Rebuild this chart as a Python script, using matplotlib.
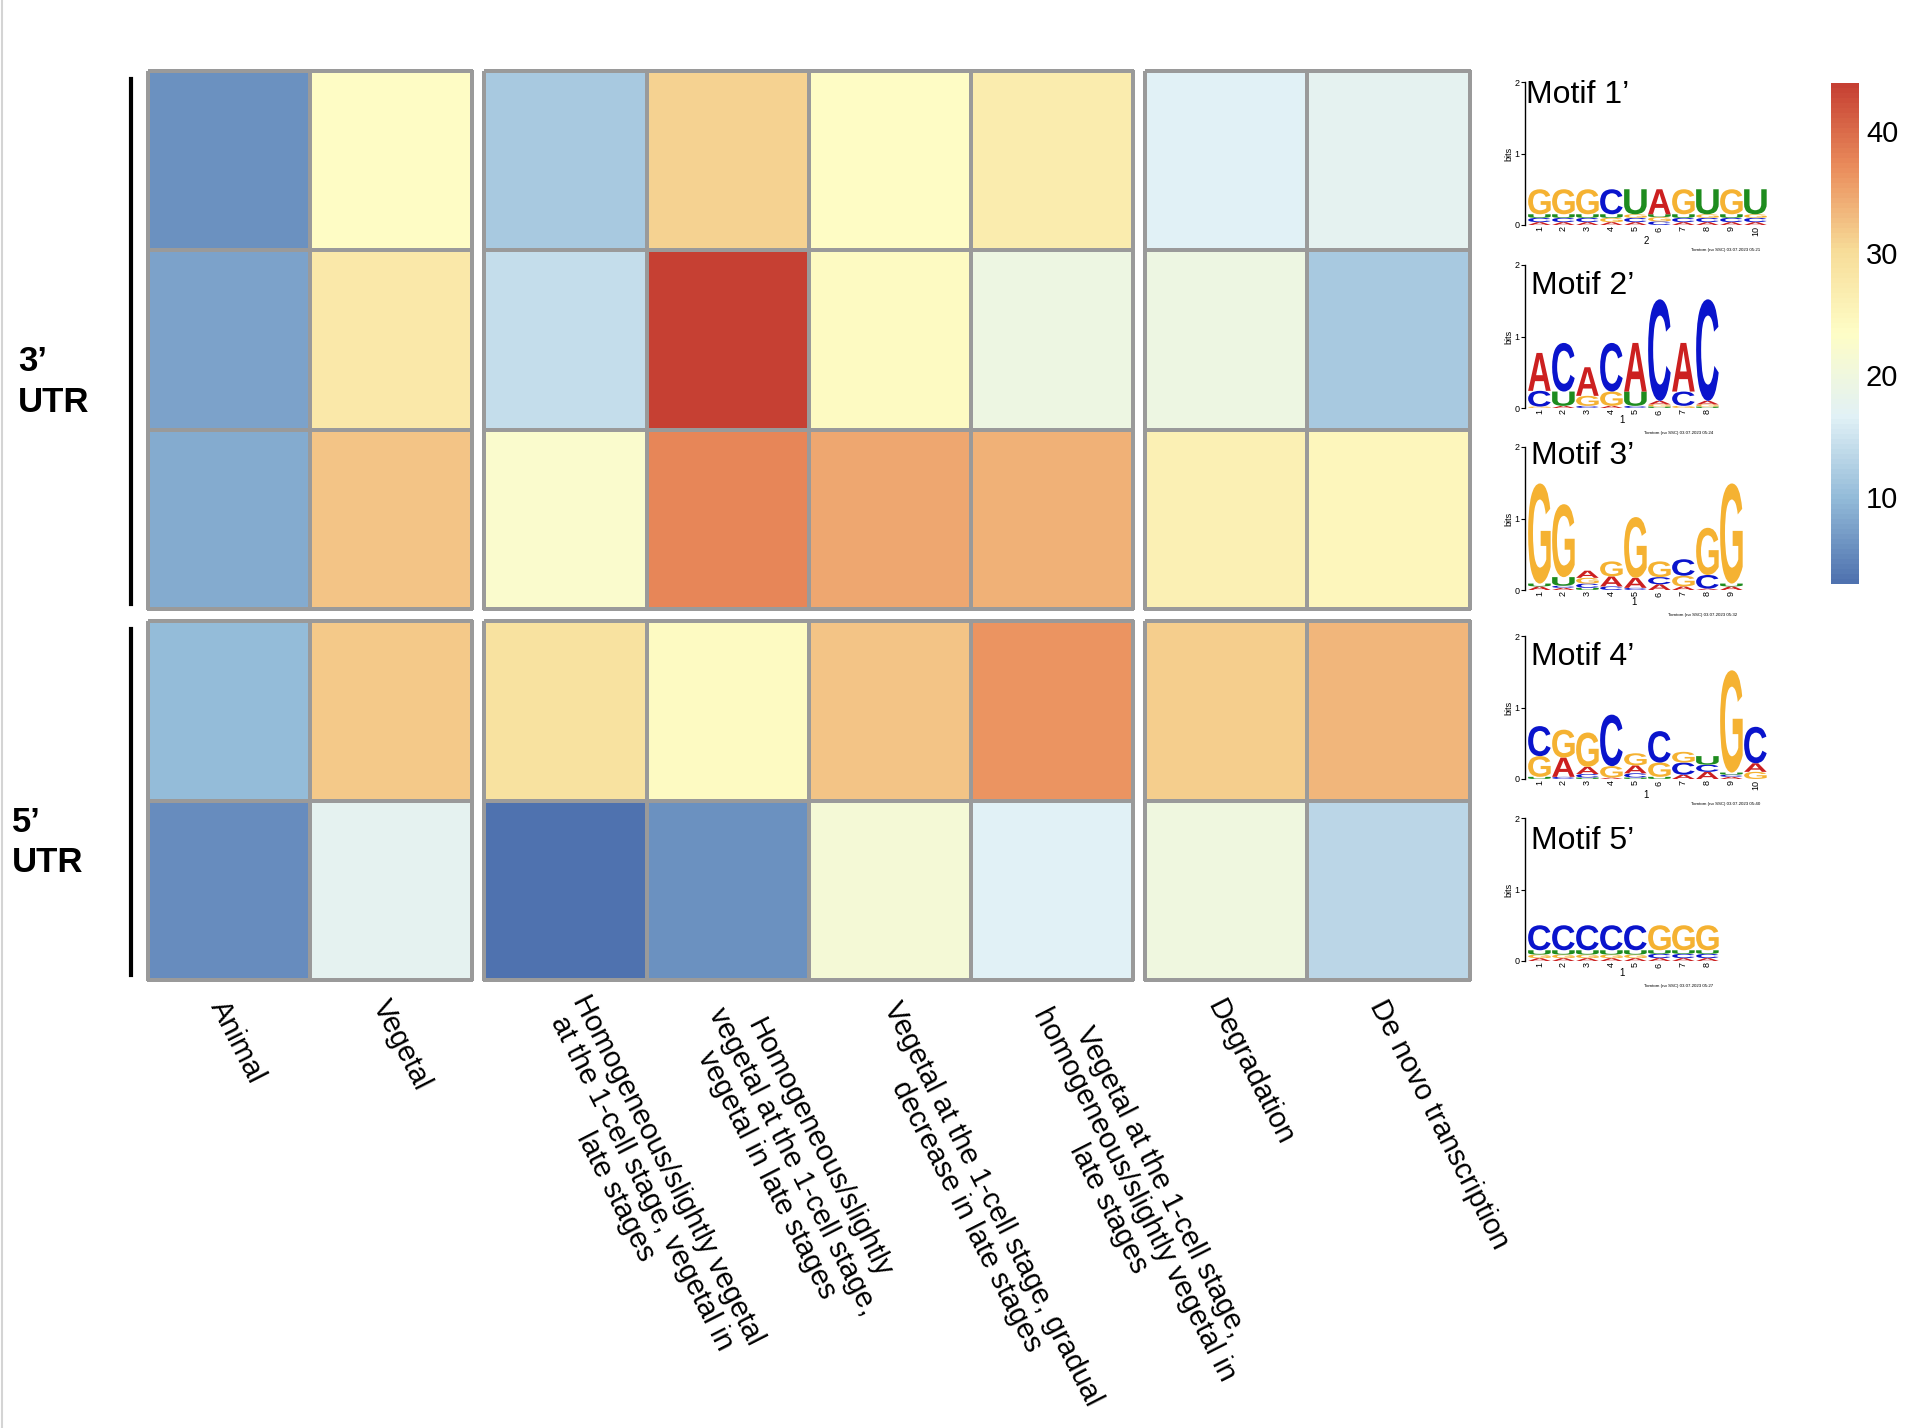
import numpy as np
import matplotlib
matplotlib.use("Agg")
import matplotlib.pyplot as plt
import matplotlib.transforms as mtransforms
from matplotlib.colors import LinearSegmentedColormap, Normalize
from matplotlib.cm import ScalarMappable
from matplotlib.textpath import TextPath
from matplotlib.patches import PathPatch
from matplotlib.font_manager import FontProperties
from matplotlib.lines import Line2D

plt.rcParams['font.family'] = ['Liberation Sans', 'DejaVu Sans']

# ---- heatmap data ----
col_labels = ["Animal",
              "Vegetal",
              "Homogeneous/slightly vegetal\nat the 1-cell stage, vegetal in\nlate stages",
              "Homogeneous/slightly\nvegetal at the 1-cell stage,\nvegetal in late stages",
              "Vegetal at the 1-cell stage, gradual\ndecrease in late stages",
              "Vegetal at the 1-cell stage,\nhomogeneous/slightly vegetal in\nlate stages",
              "Degradation",
              "De novo transcription"]
col_groups = [2, 4, 2]
utr3_values = [[6.0, 23.5, 11.7, 31.0, 23.8, 26.7, 16.8, 17.5],
               [7.5, 27.8, 14.2, 43.9, 24.0, 19.5, 19.5, 11.7],
               [8.6, 32.4, 22.5, 37.5, 34.7, 33.9, 26.0, 25.0]]
utr5_values = [[10.0, 31.6, 28.8, 24.0, 32.4, 36.5, 31.4, 33.5],
               [5.5, 17.3, 2.9, 6.0, 21.2, 16.8, 19.8, 13.5]]
row_group_labels = ["3’\nUTR", "5’\nUTR"]
cbar_ticks = [10, 20, 30, 40]

# ---- motif logos: per position, (letter, bits) from bottom to top ----
motif_names = ["Motif 1’", "Motif 2’", "Motif 3’", "Motif 4’", "Motif 5’"]
motif1 = [[('A', .04), ('C', .06), ('U', .05), ('G', .35)],
          [('A', .04), ('C', .06), ('U', .05), ('G', .35)],
          [('A', .04), ('C', .06), ('U', .05), ('G', .35)],
          [('A', .04), ('G', .06), ('U', .05), ('C', .35)],
          [('A', .04), ('C', .06), ('G', .05), ('U', .35)],
          [('C', .05), ('G', .06), ('U', .04), ('A', .35)],
          [('A', .04), ('C', .06), ('U', .05), ('G', .35)],
          [('A', .04), ('C', .06), ('G', .05), ('U', .35)],
          [('A', .04), ('C', .06), ('U', .05), ('G', .35)],
          [('A', .04), ('C', .06), ('G', .05), ('U', .35)]]
motif2 = [[('G', .02), ('C', .22), ('A', .53)],
          [('A', .03), ('U', .20), ('C', .68)],
          [('C', .03), ('G', .14), ('A', .40)],
          [('A', .03), ('G', .20), ('C', .68)],
          [('C', .03), ('U', .20), ('A', .68)],
          [('U', .02), ('G', .03), ('A', .05), ('C', 1.42)],
          [('G', .03), ('C', .20), ('A', .68)],
          [('U', .02), ('G', .03), ('A', .05), ('C', 1.42)]]
motif3 = [[('A', .05), ('U', .04), ('G', 1.40)],
          [('A', .03), ('C', .03), ('U', .12), ('G', 1.02)],
          [('U', .03), ('C', .06), ('G', .08), ('A', .10)],
          [('C', .05), ('A', .14), ('G', .21)],
          [('C', .03), ('A', .14), ('G', .85)],
          [('A', .08), ('C', .10), ('G', .22)],
          [('A', .05), ('G', .15), ('C', .23)],
          [('A', .02), ('C', .19), ('G', .66)],
          [('A', .05), ('U', .04), ('G', 1.40)]]
motif4 = [[('U', .03), ('G', .29), ('C', .42)],
          [('C', .03), ('A', .27), ('G', .39)],
          [('U', .02), ('C', .05), ('A', .10), ('G', .48)],
          [('A', .02), ('G', .16), ('C', .72)],
          [('U', .02), ('C', .06), ('A', .11), ('G', .17)],
          [('U', .03), ('G', .20), ('C', .44)],
          [('A', .06), ('C', .17), ('G', .15)],
          [('A', .10), ('C', .10), ('U', .12)],
          [('A', .03), ('C', .03), ('U', .03), ('G', 1.43)],
          [('G', .10), ('A', .12), ('C', .51)]]
motif5 = [[('A', .04), ('G', .05), ('U', .06), ('C', .35)]] * 5 + \
         [[('A', .04), ('C', .06), ('U', .05), ('G', .35)]] * 3
motifs = [motif1, motif2, motif3, motif4, motif5]
motif_sublabels = ["2", "1", "1", "1", "1"]
motif_stamps = ["Tomtom (no SSC) 03.07.2023 05:21", "Tomtom (no SSC) 03.07.2023 05:24",
                "Tomtom (no SSC) 03.07.2023 05:32", "Tomtom (no SSC) 03.07.2023 05:40",
                "Tomtom (no SSC) 03.07.2023 05:27"]
letter_colors = {'A': '#CC2020', 'C': '#0A14CC', 'G': '#F5B232', 'U': '#1E8C1E'}

# ---- figure ----
W, H = 1908, 1428
fig = plt.figure(figsize=(W / 100, H / 100), dpi=100)


def px_axes(x0, y0, x1, y1):
    return fig.add_axes([x0 / W, 1 - y1 / H, (x1 - x0) / W, (y1 - y0) / H])


# RdYlBu (reversed), a little softer as in the exported figure
cmap = LinearSegmentedColormap.from_list(
    "rdylbu", ["#4F72AF", "#92BAD8", "#E1F1F6", "#FEFDC6", "#F7DC98", "#EA8D5C", "#C64033"], N=100)
allv = np.array(utr3_values + utr5_values)
norm = Normalize(vmin=allv.min(), vmax=allv.max())

cell_w, cell_h, gap = 162.2, 179.4, 12.0
x_left, y_top = 148, 71
blocks = [np.array(utr3_values), np.array(utr5_values)]
label_x = [18, 12]

y0 = y_top
bottom_axes = []
for bi, block in enumerate(blocks):
    nr = block.shape[0]
    x0 = x_left
    c0 = 0
    for ng in col_groups:
        ax = px_axes(x0, y0, x0 + ng * cell_w, y0 + nr * cell_h)
        m = ax.pcolormesh(block[:, c0:c0 + ng], cmap=cmap, norm=norm,
                          edgecolors='#9a9a9a', linewidth=1.6)
        m.set_clip_on(False)
        ax.set_xlim(0, ng)
        ax.set_ylim(nr, 0)
        ax.axis('off')
        if bi == len(blocks) - 1:
            bottom_axes.append((ax, c0, ng, nr))
        x0 += ng * cell_w + gap
        c0 += ng
    # row group bar + label
    fig.add_artist(Line2D([131 / W, 131 / W], [1 - (y0 + 8) / H, 1 - (y0 + nr * cell_h - 5) / H],
                          color='black', lw=3))
    fig.text(label_x[bi] / W, 1 - (y0 + nr * cell_h / 2 + 42) / H,
             row_group_labels[bi], fontsize=25, fontweight='bold', ha='left', va='center',
             linespacing=1.3)
    y0 += nr * cell_h + gap

# column labels
for ax, c0, ng, nr in bottom_axes:
    for j in range(ng):
        lab = col_labels[c0 + j]
        extra = 8 if '\n' in lab else 0
        tr = mtransforms.offset_copy(ax.transData, fig=fig, x=-12, y=-22 - extra, units='dots')
        ax.text(j + 0.5, nr, lab, transform=tr, rotation=-63,
                rotation_mode='anchor', ha='left', va='center', multialignment='center',
                fontsize=21, linespacing=1.05, clip_on=False)

# colorbar
cax = px_axes(1831, 83, 1859, 584)
cb = fig.colorbar(ScalarMappable(norm=norm, cmap=cmap), cax=cax, ticks=cbar_ticks)
cb.outline.set_visible(False)
cax.tick_params(length=0, labelsize=21, pad=5)

# motif logos
fp = FontProperties(family='Liberation Sans', weight='bold')


def draw_letter(ax, letter, x, y, w, h):
    tp = TextPath((0, 0), letter, size=1, prop=fp)
    bb = tp.get_extents()
    t = mtransforms.Affine2D().translate(-bb.x0, -bb.y0) \
        .scale(w / bb.width, h / bb.height).translate(x, y)
    ax.add_patch(PathPatch(t.transform_path(tp), fc=letter_colors[letter], ec='none', lw=0))


logo_base = [225, 408, 590, 779, 961]
title_y = [1.82, 1.70, 1.88, 1.70, 1.68]
pos_w = 24.0
for k, motif in enumerate(motifs):
    n = len(motif)
    yb = logo_base[k]
    ax = px_axes(1525, yb - 143, 1525 + (n + 0.1) * pos_w, yb)
    ax.set_xlim(0.4, n + 0.5)
    ax.set_ylim(0, 2)
    for i, stack in enumerate(motif):
        y = 0
        for letter, hgt in stack:
            draw_letter(ax, letter, i + 1 - 0.47, y, 0.94, hgt)
            y += hgt
    for s in ['top', 'right', 'bottom']:
        ax.spines[s].set_visible(False)
    ax.spines['left'].set_linewidth(1.0)
    ax.set_yticks([0, 1, 2])
    ax.tick_params(axis='y', labelsize=6.5, length=3, width=0.8, pad=1)
    ax.set_xticks(range(1, n + 1))
    ax.set_xticklabels([str(i) for i in range(1, n + 1)], rotation=90, fontsize=6.5)
    ax.tick_params(axis='x', length=0, pad=1)
    ax.set_ylabel("bits", fontsize=6.5, labelpad=1)
    ax.set_xlabel(motif_sublabels[k], fontsize=7, labelpad=0)
    ax.text(0.97, -0.16, motif_stamps[k], transform=ax.transAxes, ha='right', va='top',
            fontsize=3.2)
    ax.text(0.45 if k == 0 else 0.65, title_y[k], motif_names[k], fontsize=23, va='center',
            ha='left')

# thin gray frame at the left edge
fig.add_artist(Line2D([0.0012, 0.0012], [0, 1], color='#d4d4d4', lw=1.5))

fig.savefig("out.png", dpi=100, facecolor='white')
